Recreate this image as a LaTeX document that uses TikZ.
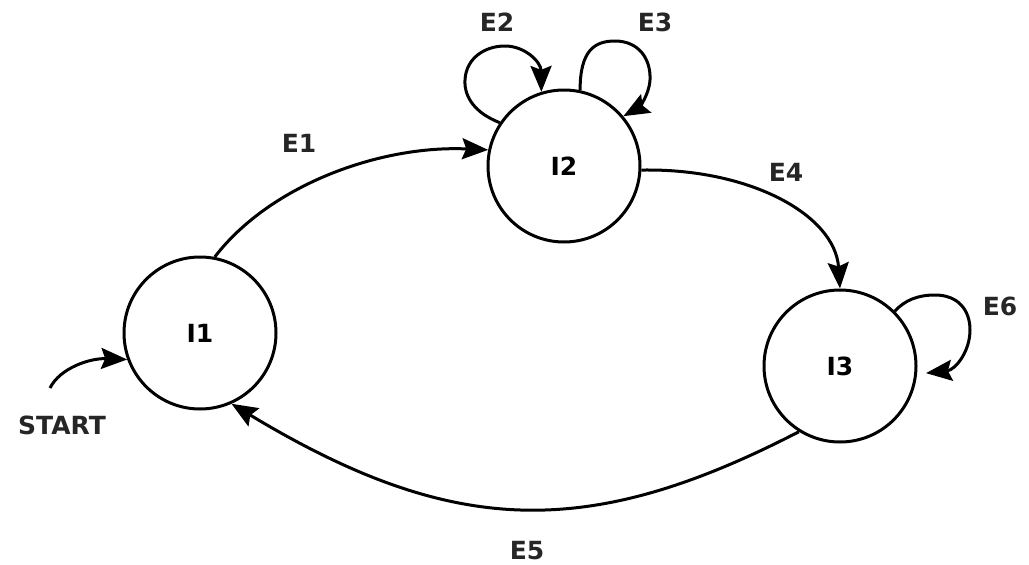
\documentclass[tikz,border=0pt]{standalone}
\usepackage{fontspec}
\setmainfont{DejaVu Sans}
\usetikzlibrary{arrows.meta}
\begin{document}
\begin{tikzpicture}[x=1pt,y=-1pt,
  state/.style={draw,circle,line width=3pt,minimum size=152pt,inner sep=0pt,font=\fontsize{25}{30}\selectfont\bfseries},
  lbl/.style={font=\fontsize{25}{30}\selectfont\bfseries,text=black!85},
  arr/.style={line width=3pt,-{Stealth[length=26pt,width=21pt,inset=4pt]}}]
\useasboundingbox[fill=white] (0,0) rectangle (1029,565);
\node[state] (I1) at (200,333) {I1};
\node[state] (I2) at (564,166) {I2};
\node[state] (I3) at (840,366) {I3};
% labels
\node[lbl] (lE1) at (299,143) {E1};
\node[lbl] (lE2) at (497,22) {E2};
\node[lbl] (lE3) at (655,22) {E3};
\node[lbl] (lE4) at (786,172) {E4};
\node[lbl] (lE5) at (527,551) {E5};
\node[lbl] (lE6) at (1000,306) {E6};
\node[lbl] (lS) at (62,425) {START};
\coordinate (s0) at (50,388);
% start
\draw[arr] (s0) .. controls (60,368) and (90,358) .. (I1.200);
% E1
\draw[arr] (I1.79) .. controls (270,185) and (380,145) .. (I2.168);
% E4
\draw[arr] (I2.-3) .. controls (750,168) and (835,215) .. (I3.90);
% E5
\draw[arr] (I3.-122) .. controls (589,540) and (454,538) .. (I1.-66);
% E2 loop
\coordinate (a1) at (465,80);
\coordinate (a2) at (505,46);
\draw[arr] (I2.146) .. controls (475,113) and (464,97) .. (a1)
  .. controls (466,58) and (485,46) .. (a2)
  .. controls (525,46) and (541,62) .. (I2.107);
% E3 loop
\coordinate (b1) at (615,41);
\coordinate (b2) at (650,80);
\draw[arr] (I2.78) .. controls (580,50) and (595,41) .. (b1)
  .. controls (638,41) and (651,58) .. (b2)
  .. controls (649,96) and (638,108) .. (I2.40);
% E6 loop
\coordinate (c1) at (935,295);
\coordinate (c2) at (970,330);
\draw[arr,shorten >=9pt] (I3.45) .. controls (905,300) and (918,295) .. (c1)
  .. controls (958,295) and (970,310) .. (c2)
  .. controls (970,352) and (955,370) .. (I3.-6);
\end{tikzpicture}
\end{document}
